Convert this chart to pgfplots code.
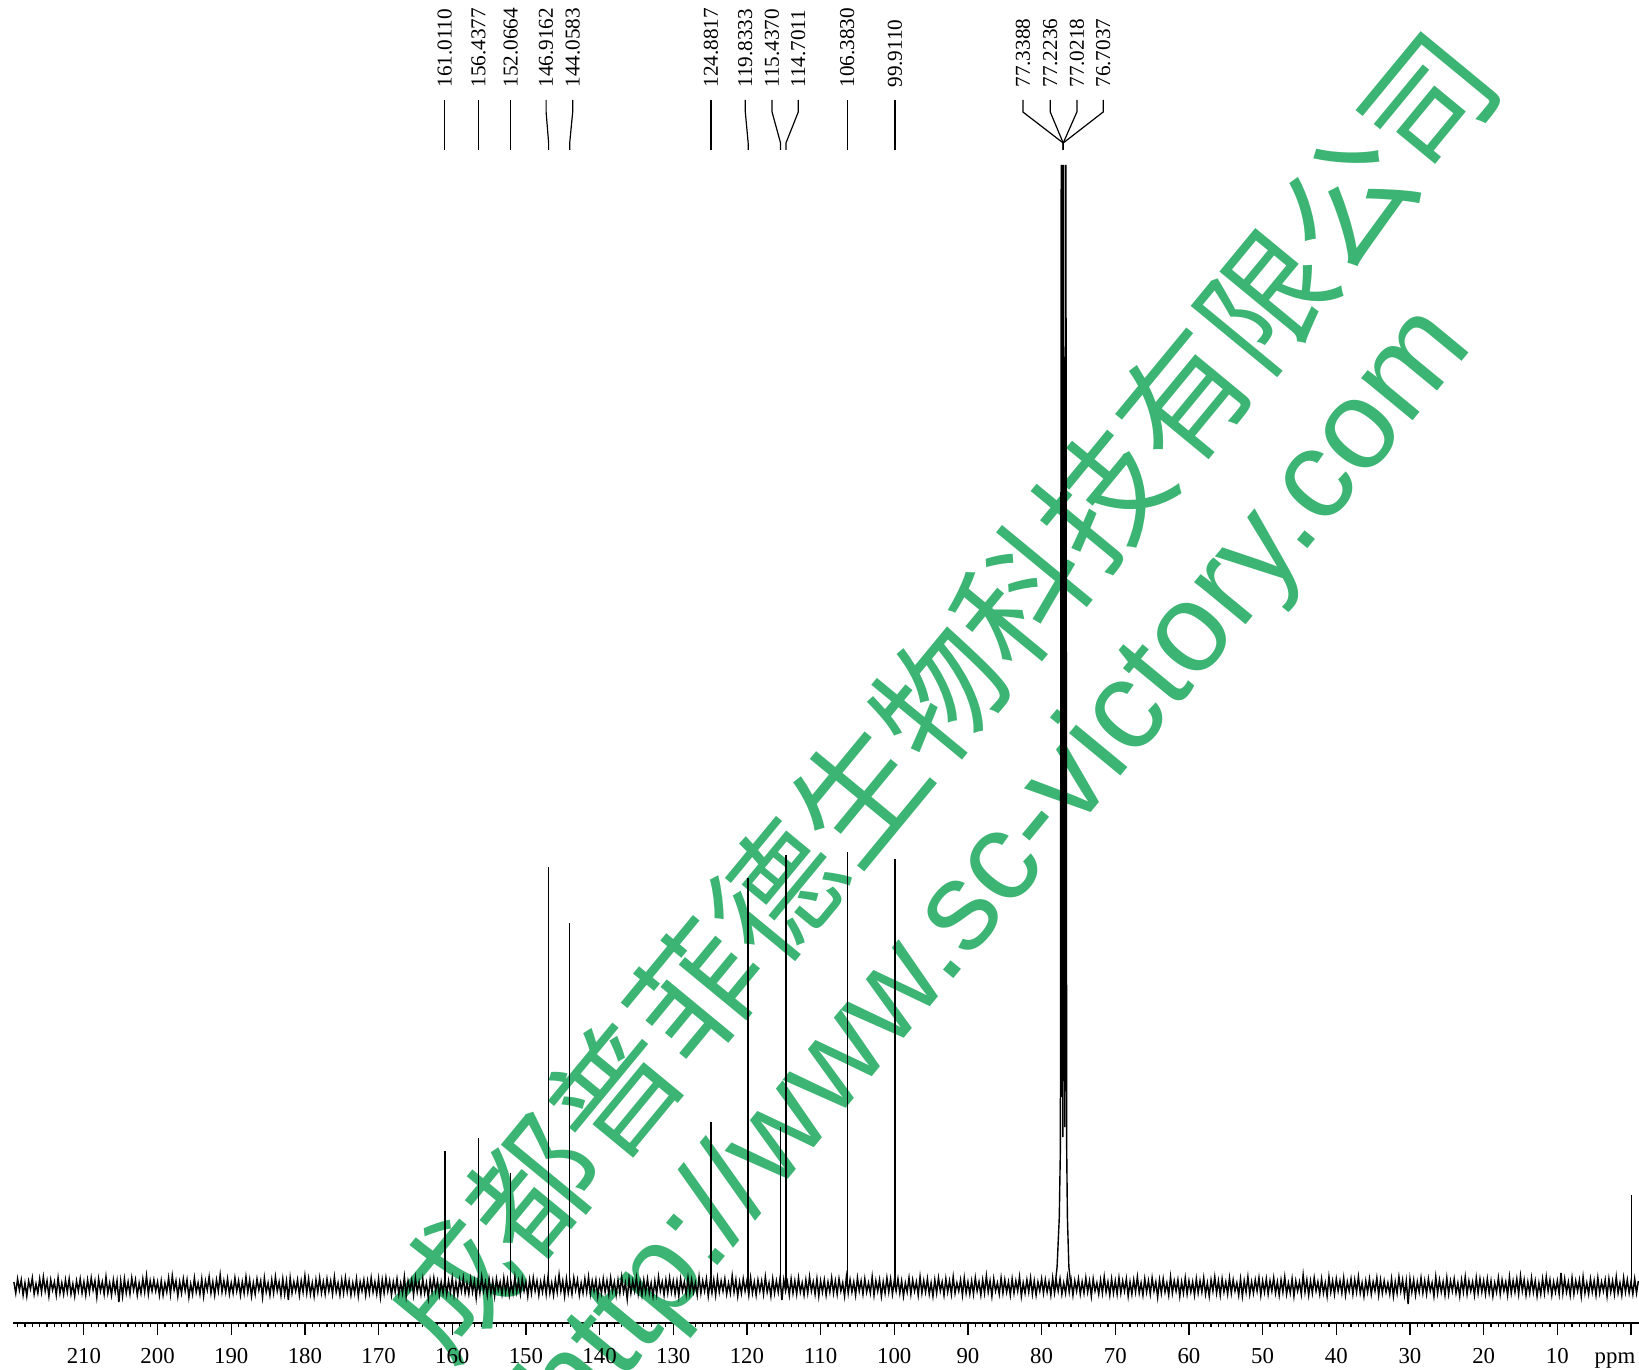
\documentclass[border=0pt]{standalone}
\usepackage{pgfplots}
\usepackage{pgfplotstable}
\pgfplotsset{compat=1.18}
\usepackage{fontspec}
\setmainfont{Liberation Serif}
\newfontfamily\cjk{Noto Sans CJK SC}
\newfontfamily\wmsans{Liberation Sans}
\definecolor{wmgreen}{RGB}{60,180,115}

% baseline noise, one value every 0.25 ppm from 219.5 ppm down to -1 ppm
\pgfplotstableread[row sep=\\, header=false]{
5\\-6\\8\\-3\\7\\-8\\4\\-9\\6\\-2\\9\\-7\\3\\-6\\8\\-5\\10\\-4\\6\\-9\\7\\-3\\5\\-8\\9\\-6\\4\\-7\\7\\-5\\8\\-7\\3\\-9\\6\\-4\\8\\-6\\5\\-8\\
7\\-5\\9\\-3\\6\\-10\\8\\-4\\5\\-7\\10\\-6\\4\\-8\\7\\-5\\6\\-15\\6\\-9\\8\\-6\\5\\-7\\9\\-3\\7\\-8\\4\\-6\\8\\-5\\11\\-7\\6\\-4\\7\\-4\\5\\-8\\
6\\-8\\4\\-5\\9\\-7\\11\\-3\\6\\-9\\5\\-6\\8\\-4\\7\\-10\\3\\-7\\9\\-5\\4\\-7\\8\\-9\\6\\-3\\10\\-6\\5\\-8\\7\\-4\\12\\-5\\6\\-5\\8\\-7\\4\\-6\\
9\\-4\\6\\-8\\5\\-6\\10\\-5\\7\\-9\\4\\-7\\8\\-3\\6\\-10\\9\\-5\\4\\-8\\7\\-6\\10\\-4\\5\\-8\\8\\-7\\6\\-13\\9\\-6\\5\\-4\\7\\-8\\6\\-5\\11\\-6\\
8\\-7\\4\\-9\\7\\-5\\9\\-6\\5\\-7\\8\\-4\\6\\-7\\10\\-5\\4\\-8\\7\\-6\\9\\-5\\6\\-8\\4\\-6\\8\\-9\\5\\-4\\7\\-8\\6\\-6\\9\\-5\\5\\-7\\8\\-10\\
7\\-6\\9\\-4\\6\\-8\\5\\-5\\8\\-7\\4\\-6\\10\\-9\\6\\-3\\7\\-8\\9\\-5\\5\\-7\\8\\-6\\4\\-11\\7\\-5\\9\\-4\\6\\-8\\5\\-6\\8\\-7\\6\\-5\\9\\-8\\
5\\-8\\7\\-4\\9\\-6\\4\\-7\\8\\-5\\6\\-11\\7\\-6\\10\\-4\\5\\-8\\8\\-6\\6\\-9\\8\\-3\\5\\-7\\9\\-5\\7\\-8\\4\\-6\\10\\-5\\6\\-7\\8\\-4\\5\\-9\\
7\\-6\\9\\-4\\6\\-8\\5\\-5\\8\\-7\\10\\-6\\4\\-8\\7\\-5\\12\\-4\\6\\-9\\8\\-6\\5\\-7\\9\\-3\\7\\-8\\4\\-6\\8\\-5\\10\\-7\\6\\-4\\7\\-9\\5\\-6\\
8\\-5\\6\\-7\\9\\-4\\5\\-8\\7\\-6\\10\\-5\\4\\-12\\8\\-6\\6\\-4\\9\\-7\\5\\-8\\7\\-5\\8\\-6\\4\\-9\\6\\-7\\10\\-4\\5\\-8\\7\\-6\\9\\-5\\6\\-7\\
6\\-9\\8\\-4\\5\\-7\\9\\-6\\7\\-5\\4\\-8\\10\\-6\\6\\-4\\8\\-9\\5\\-6\\7\\-8\\9\\-5\\6\\-4\\8\\-7\\4\\-6\\11\\-5\\7\\-9\\5\\-6\\8\\-4\\6\\-8\\
9\\-6\\5\\-8\\7\\-4\\6\\-7\\10\\-5\\4\\-9\\8\\-6\\6\\-5\\9\\-13\\7\\-4\\5\\-8\\8\\-6\\6\\-7\\9\\-5\\4\\-8\\7\\-6\\10\\-4\\5\\-7\\8\\-9\\6\\-5\\
7\\-8\\5\\-5\\9\\-6\\6\\-7\\8\\-4\\4\\-9\\10\\-6\\7\\-5\\5\\-8\\9\\-4\\6\\-7\\8\\-5\\4\\-6\\10\\-8\\6\\-4\\7\\-9\\5\\-6\\9\\-5\\8\\-7\\6\\-4\\
8\\-6\\6\\-9\\4\\-5\\9\\-7\\7\\-4\\5\\-8\\10\\-6\\6\\-5\\8\\-7\\4\\-9\\7\\-6\\9\\-4\\5\\-8\\8\\-5\\6\\-7\\10\\-6\\4\\-4\\7\\-8\\9\\-6\\5\\-7\\
6\\-7\\9\\-4\\5\\-8\\7\\-6\\11\\-5\\6\\-9\\8\\-4\\4\\-7\\9\\-6\\7\\-5\\5\\-8\\8\\-6\\6\\-4\\10\\-9\\4\\-6\\7\\-5\\9\\-7\\6\\-8\\5\\-4\\8\\-6\\
7\\-5\\5\\-8\\9\\-6\\6\\-4\\8\\-7\\4\\-6\\10\\-5\\7\\-8\\6\\-4\\8\\-7\\5\\-6\\9\\-5\\6\\-9\\8\\-4\\4\\-7\\7\\-6\\10\\-5\\5\\-8\\8\\-6\\6\\-7\\
9\\-6\\6\\-4\\8\\-9\\5\\-7\\7\\-5\\10\\-6\\4\\-8\\8\\-5\\6\\-7\\9\\-4\\5\\-10\\7\\-6\\8\\-5\\4\\-8\\10\\-6\\6\\-4\\7\\-9\\5\\-6\\9\\-7\\6\\-5\\
5\\-8\\8\\-6\\6\\-5\\9\\-7\\4\\-9\\7\\-4\\10\\-6\\6\\-8\\8\\-5\\5\\-7\\9\\-6\\7\\-4\\4\\-8\\8\\-9\\6\\-5\\10\\-7\\5\\-6\\7\\-4\\9\\-8\\6\\-5\\
8\\-7\\6\\-4\\9\\-6\\5\\-8\\7\\-5\\10\\-7\\4\\-6\\8\\-9\\6\\-4\\5\\-7\\12\\-5\\7\\-8\\6\\-6\\9\\-4\\5\\-7\\8\\-6\\4\\-9\\10\\-5\\6\\-7\\8\\-4\\
6\\-6\\9\\-8\\5\\-4\\8\\-7\\7\\-5\\10\\-6\\4\\-9\\6\\-5\\8\\-7\\5\\-4\\9\\-8\\7\\-6\\6\\-5\\4\\-7\\8\\-9\\5\\-6\\10\\-4\\7\\-8\\6\\-17\\8\\-5\\
7\\-8\\5\\-5\\9\\-6\\6\\-7\\8\\-4\\4\\-9\\10\\-6\\7\\-5\\5\\-8\\9\\-7\\6\\-4\\8\\-6\\4\\-9\\7\\-5\\10\\-7\\6\\-4\\5\\-8\\9\\-6\\8\\-5\\6\\-7\\
8\\-6\\6\\-9\\4\\-5\\9\\-7\\7\\-4\\5\\-8\\10\\-6\\6\\-5\\8\\-7\\11\\-4\\7\\-8\\5\\-6\\9\\-5\\6\\-9\\4\\-7\\8\\-6\\10\\-4\\7\\-8\\5\\-5\\6\\-7\\
14\\-6\\8\\-5\\5\\-8\\9\\-7\\6\\-4\\7\\-9\\10\\-6\\4\\-7\\8\\-5\\6\\-8\\9\\-6\\5\\-4\\7\\-9\\8\\-5\\6\\-7\\10\\-6\\4\\-8\\9\\-5\\7\\-6\\5\\-7\\
8\\-6\\6\\
}\noisetab

% label at ppm #1, peak at ppm #2, text #3
\newcommand\pk[3]{%
  \draw[line width=0.6pt] (axis cs:#1,1187) -- (axis cs:#1,1175) -- (axis cs:#2,1144) -- (axis cs:#2,1137);
  \node[rotate=90, anchor=west, inner sep=0pt, font=\fontsize{10.6}{11}\selectfont] at (axis cs:#1,1199) {#3};
}

\begin{document}
\begin{tikzpicture}
\begin{axis}[
    x=3.6835pt, y=0.5pt,
    x dir=reverse,
    xmin=-1.086, xmax=219.63,
    ymin=-36, ymax=1122,
    axis x line=bottom, axis y line=none,
    axis line style={-, line width=0.8pt},
    clip=false,
    xtick={0,10,...,210},
    xticklabels=\empty,
    minor xtick={1,2,...,219},
    tick align=outside,
    major tick length=6pt, minor tick length=2pt,
    tick style={black, line width=0.6pt},
]
\coordinate (bl) at (axis cs:221.39,-82);
\coordinate (tr) at (axis cs:-1.086,1287);

% watermark
\node[rotate=50.5, text=wmgreen, font=\cjk\fontsize{64}{64}\selectfont, inner sep=0pt] at (axis cs:93.8,592) {成都普菲德生物科技有限公司};
\node[rotate=50.5, text=wmgreen, font=\wmsans\fontsize{63}{63}\selectfont, inner sep=0pt] at (axis cs:85.6,416) {http://www.sc-victory.com};

% baseline noise
\addplot[black, line width=0.75pt, mark=none] table[x expr={219.5-0.25*\coordindex}, y index=0] {\noisetab};

% CDCl3 solvent triplet (tops run off the plot)
\addplot[black, line width=0.7pt, mark=none] coordinates {
(78.2,0)(77.9,20)(77.6,70)(77.45,140)(77.34,1122)(77.28,190)(77.22,1122)(77.12,150)(77.02,1122)(76.86,160)(76.7,1122)(76.6,140)(76.5,70)(76.3,20)(76.0,0)
};

% sharp peaks
\addplot[black, line width=0.75pt, ycomb, mark=none] coordinates {
(161.011,136)(156.4377,149)(152.0664,114)(146.9162,420)(144.0583,364)
(124.8817,165)(119.8333,409)(115.437,160)(114.7011,432)(106.383,435)(99.911,428)
(-0.1,92)
};

% peak labels
\pk{161.011}{161.011}{161.0110}
\pk{156.4377}{156.4377}{156.4377}
\pk{152.0664}{152.0664}{152.0664}
\pk{147.26}{146.9162}{146.9162}
\pk{143.65}{144.0583}{144.0583}
\pk{124.8817}{124.8817}{124.8817}
\pk{120.22}{119.8333}{119.8333}
\pk{116.59}{115.437}{115.4370}
\pk{113.03}{114.7011}{114.7011}
\pk{106.383}{106.383}{106.3830}
\pk{99.911}{99.911}{99.9110}
\pk{82.54}{77.07}{77.3388}
\pk{78.83}{77.07}{77.2236}
\pk{75.21}{77.07}{77.0218}
\pk{71.64}{77.07}{76.7037}

% tick labels
\pgfplotsinvokeforeach{10,20,...,210}{
  \node[anchor=base, inner sep=0pt, font=\fontsize{11.4}{12}\selectfont] at (axis cs:#1,-76) {#1};
}
\node[anchor=base, font=\fontsize{11.4}{12}\selectfont, inner sep=0pt] at (axis cs:2.17,-76) {ppm};
\end{axis}
\pgfresetboundingbox
\path[use as bounding box] (bl) rectangle (tr);
\end{tikzpicture}
\end{document}
